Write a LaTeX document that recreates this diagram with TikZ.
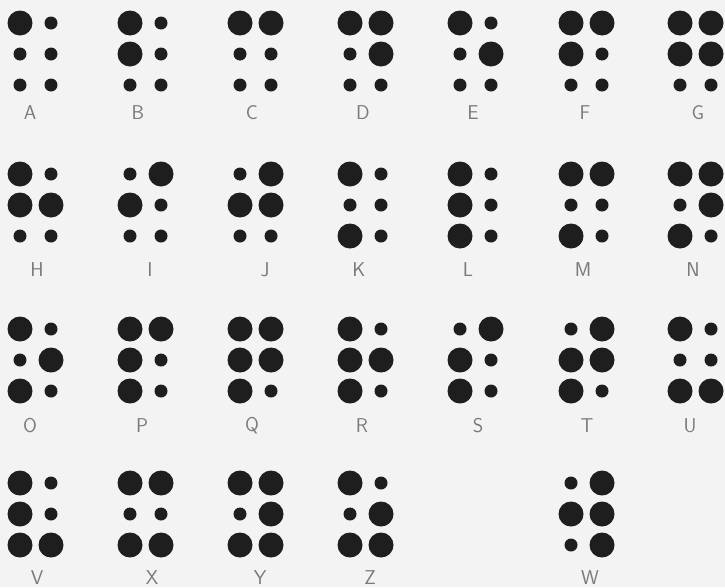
\documentclass[tikz,border=0pt]{standalone}
\usepackage{tikz}
\definecolor{dotdark}{HTML}{1E1E1E}
\definecolor{lettergray}{HTML}{7A7A7A}
\definecolor{papergray}{HTML}{F3F3F3}

\begin{document}
\begin{tikzpicture}[x=1pt, y=-1pt,
  dot1/.style={circle, fill=dotdark, minimum size=25pt, inner sep=0pt},
  dot0/.style={circle, fill=dotdark, minimum size=13pt, inner sep=0pt},
  letter/.style={font=\sffamily\fontsize{20}{20}\selectfont, text=lettergray},
]
  \fill[papergray] (0,0) rectangle (725,587);
  \useasboundingbox (0,0) rectangle (725,587);

  % letter / left dot x / top dot y / label x / label y / dots 1-6
  \foreach \ltr/\cx/\cy/\lx/\ly/\pat in {
      A/20/23/30/113/{1,0,0,0,0,0},   B/130/23/138/113/{1,1,0,0,0,0},
      C/240/23/252/113/{1,0,0,1,0,0}, D/350/23/363/113/{1,0,0,1,1,0},
      E/460/23/473/113/{1,0,0,0,1,0}, F/571/23/585/113/{1,1,0,1,0,0},
      G/680/23/698/113/{1,1,0,1,1,0},
      H/20/174/37/270/{1,1,0,0,1,0},  I/130/174/150/270/{0,1,0,1,0,0},
      J/240/174/265/270/{0,1,0,1,1,0}, K/350/174/359/270/{1,0,1,0,0,0},
      L/460/174/468/270/{1,1,1,0,0,0}, M/571/174/583/270/{1,0,1,1,0,0},
      N/680/174/693/270/{1,0,1,1,1,0},
      O/20/329/30/426/{1,0,1,0,1,0},  P/130/329/142/426/{1,1,1,1,0,0},
      Q/240/329/252/426/{1,1,1,1,1,0}, R/350/329/362/426/{1,1,1,0,1,0},
      S/460/329/478/426/{0,1,1,1,0,0}, T/571/329/587/426/{0,1,1,1,1,0},
      U/680/329/690/426/{1,0,1,0,0,1},
      V/20/483/37/578/{1,1,1,0,0,1},  X/130/483/152/578/{1,0,1,1,0,1},
      Y/240/483/260/578/{1,0,1,1,1,1}, Z/350/483/370/578/{1,0,1,0,1,1},
      W/571/483/590/578/{0,1,0,1,1,1}}{
    \foreach \d [count=\k from 0] in \pat {
      \pgfmathtruncatemacro\colno{div(\k,3)}
      \pgfmathtruncatemacro\rowno{mod(\k,3)}
      \node[dot\d] (\ltr-\k) at (\cx+31*\colno, \cy+31*\rowno) {};
    }
    \node[letter] (lbl-\ltr) at (\lx, \ly) {\ltr};
  }
\end{tikzpicture}
\end{document}
